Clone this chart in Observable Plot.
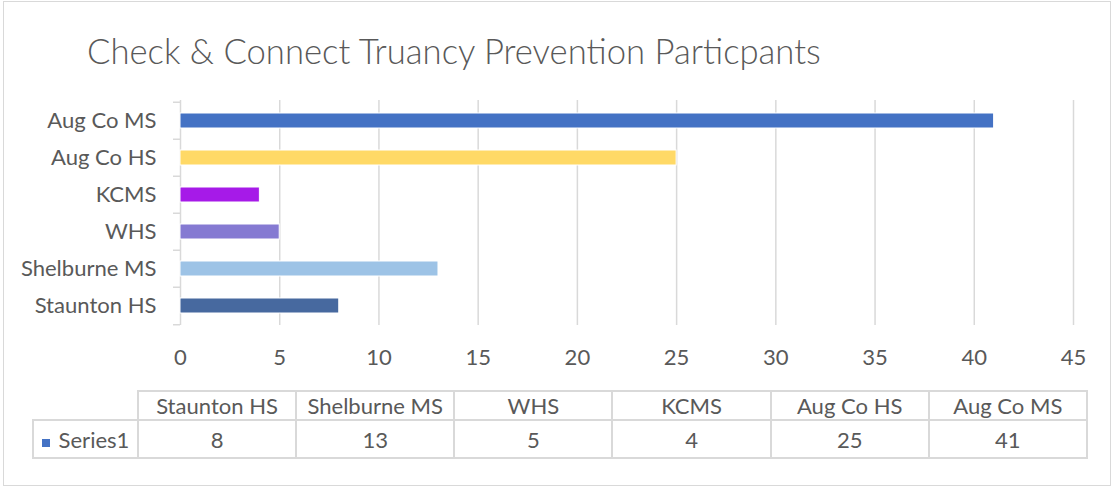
<!DOCTYPE html>
<html>
<head>
<meta charset="utf-8">
<script src="https://cdn.jsdelivr.net/npm/d3@7"></script>
<script src="https://cdn.jsdelivr.net/npm/@observablehq/plot@0.6"></script>
<style>
  html, body { margin: 0; padding: 0; background: #fff; }
  #wrap { position: relative; width: 1114px; height: 487px; overflow: hidden; font-family: Lato, "Open Sans", sans-serif; color: #595959; }
  #frame { position: absolute; left: 3px; top: 1px; width: 1108px; height: 485px; border: 1px solid #d9d9d9; box-sizing: border-box; }
  #title { position: absolute; left: 87px; top: 0px; white-space: nowrap; font-weight: 300; line-height: 1; }
  #chart { position: absolute; left: 0; top: 90px; }
  #table { position: absolute; left: 32px; top: 390px; border-collapse: collapse; table-layout: fixed; }
  #table td { border: 2px solid #d9d9d9; text-align: center; padding: 0; white-space: nowrap; color: #595959; }
  #table td.corner { border: none; }
  .key { display: inline-block; width: 8px; height: 8px; margin-right: 9px; vertical-align: 1px; }
</style>
</head>
<body>
<div id="wrap">
  <div id="frame"></div>
  <div id="title"></div>
  <div id="chart"></div>
  <table id="table"></table>
</div>
<script>
const titleText = "Check & Connect Truancy Prevention Particpants";
const categories = ["Staunton HS", "Shelburne MS", "WHS", "KCMS", "Aug Co HS", "Aug Co MS"];
const values = [8, 13, 5, 4, 25, 41];
const colors = ["#47699f", "#9dc3e6", "#857ad2", "#a61ae8", "#ffd966", "#4472c4"];
const seriesName = "Series1";
const seriesColor = "#4472c4";
const xTicks = [0, 5, 10, 15, 20, 25, 30, 35, 40, 45];

const data = categories.map((c, i) => ({category: c, value: values[i], color: colors[i]}));

const canvas = document.createElement("canvas");
const ctx = canvas.getContext("2d");
function fitSize(text, weight, target) {
  ctx.font = `${weight} 100px Lato`;
  return 100 * target / ctx.measureText(text).width;
}
const titleSize = fitSize(titleText, 300, 736);
const labelSize = fitSize("Shelburne MS", 400, 135.7);

const title = document.getElementById("title");
title.textContent = titleText;
title.style.fontSize = titleSize + "px";
title.style.top = (68 - titleSize * 0.99) + "px";

const W = 1114, H = 290, mT = 10, mB = 55, mL = 180, mR = 41;
const step = (H - mT - mB) / categories.length;
const yDomain = categories.slice().reverse();

const chart = Plot.plot({
  width: W,
  height: H,
  marginTop: mT,
  marginBottom: mB,
  marginLeft: mL,
  marginRight: mR,
  style: {fontFamily: "Lato, sans-serif", fontSize: labelSize + "px", color: "#595959", background: "transparent"},
  x: {domain: [0, 45], label: null},
  y: {domain: yDomain, paddingInner: 0.6, paddingOuter: 0.3, label: null},
  marks: [
    Plot.gridX({ticks: xTicks, stroke: "#d9d9d9", strokeOpacity: 1, strokeWidth: 1.5}),
    Plot.axisY({tickSize: 7, tickFormat: () => "", label: null, dy: -step / 2, stroke: "#d9d9d9", strokeOpacity: 1, strokeWidth: 1.5}),
    Plot.axisY({ticks: [categories[0]], tickSize: 7, tickFormat: () => "", label: null, dy: step / 2, stroke: "#d9d9d9", strokeOpacity: 1, strokeWidth: 1.5}),
    Plot.axisY({tickSize: 0, tickPadding: 24, label: null, fill: "#595959", fontSize: labelSize}),
    Plot.axisX({ticks: xTicks, tickSize: 0, tickPadding: 24, label: null, fill: "#595959", fontSize: labelSize}),
    Plot.barX(data, {x: "value", y: "category", fill: "color", stroke: "white", strokeWidth: 1})
  ]
});
document.getElementById("chart").appendChild(chart);

// data table
const table = document.getElementById("table");
table.style.fontSize = labelSize + "px";
const colW = (1086 - 137) / categories.length;
const cg = document.createElement("colgroup");
const c0 = document.createElement("col"); c0.style.width = (137 - 32) + "px"; cg.appendChild(c0);
categories.forEach(() => { const c = document.createElement("col"); c.style.width = colW + "px"; cg.appendChild(c); });
table.appendChild(cg);
const r1 = table.insertRow();
r1.style.height = "28.6px";
const corner = r1.insertCell(); corner.className = "corner";
categories.forEach(c => { r1.insertCell().textContent = c; });
const r2 = table.insertRow();
r2.style.height = "38px";
const lc = r2.insertCell();
lc.innerHTML = `<span class="key" style="background:${seriesColor}"></span>${seriesName}`;
values.forEach(v => { r2.insertCell().textContent = v; });
</script>
</body>
</html>
